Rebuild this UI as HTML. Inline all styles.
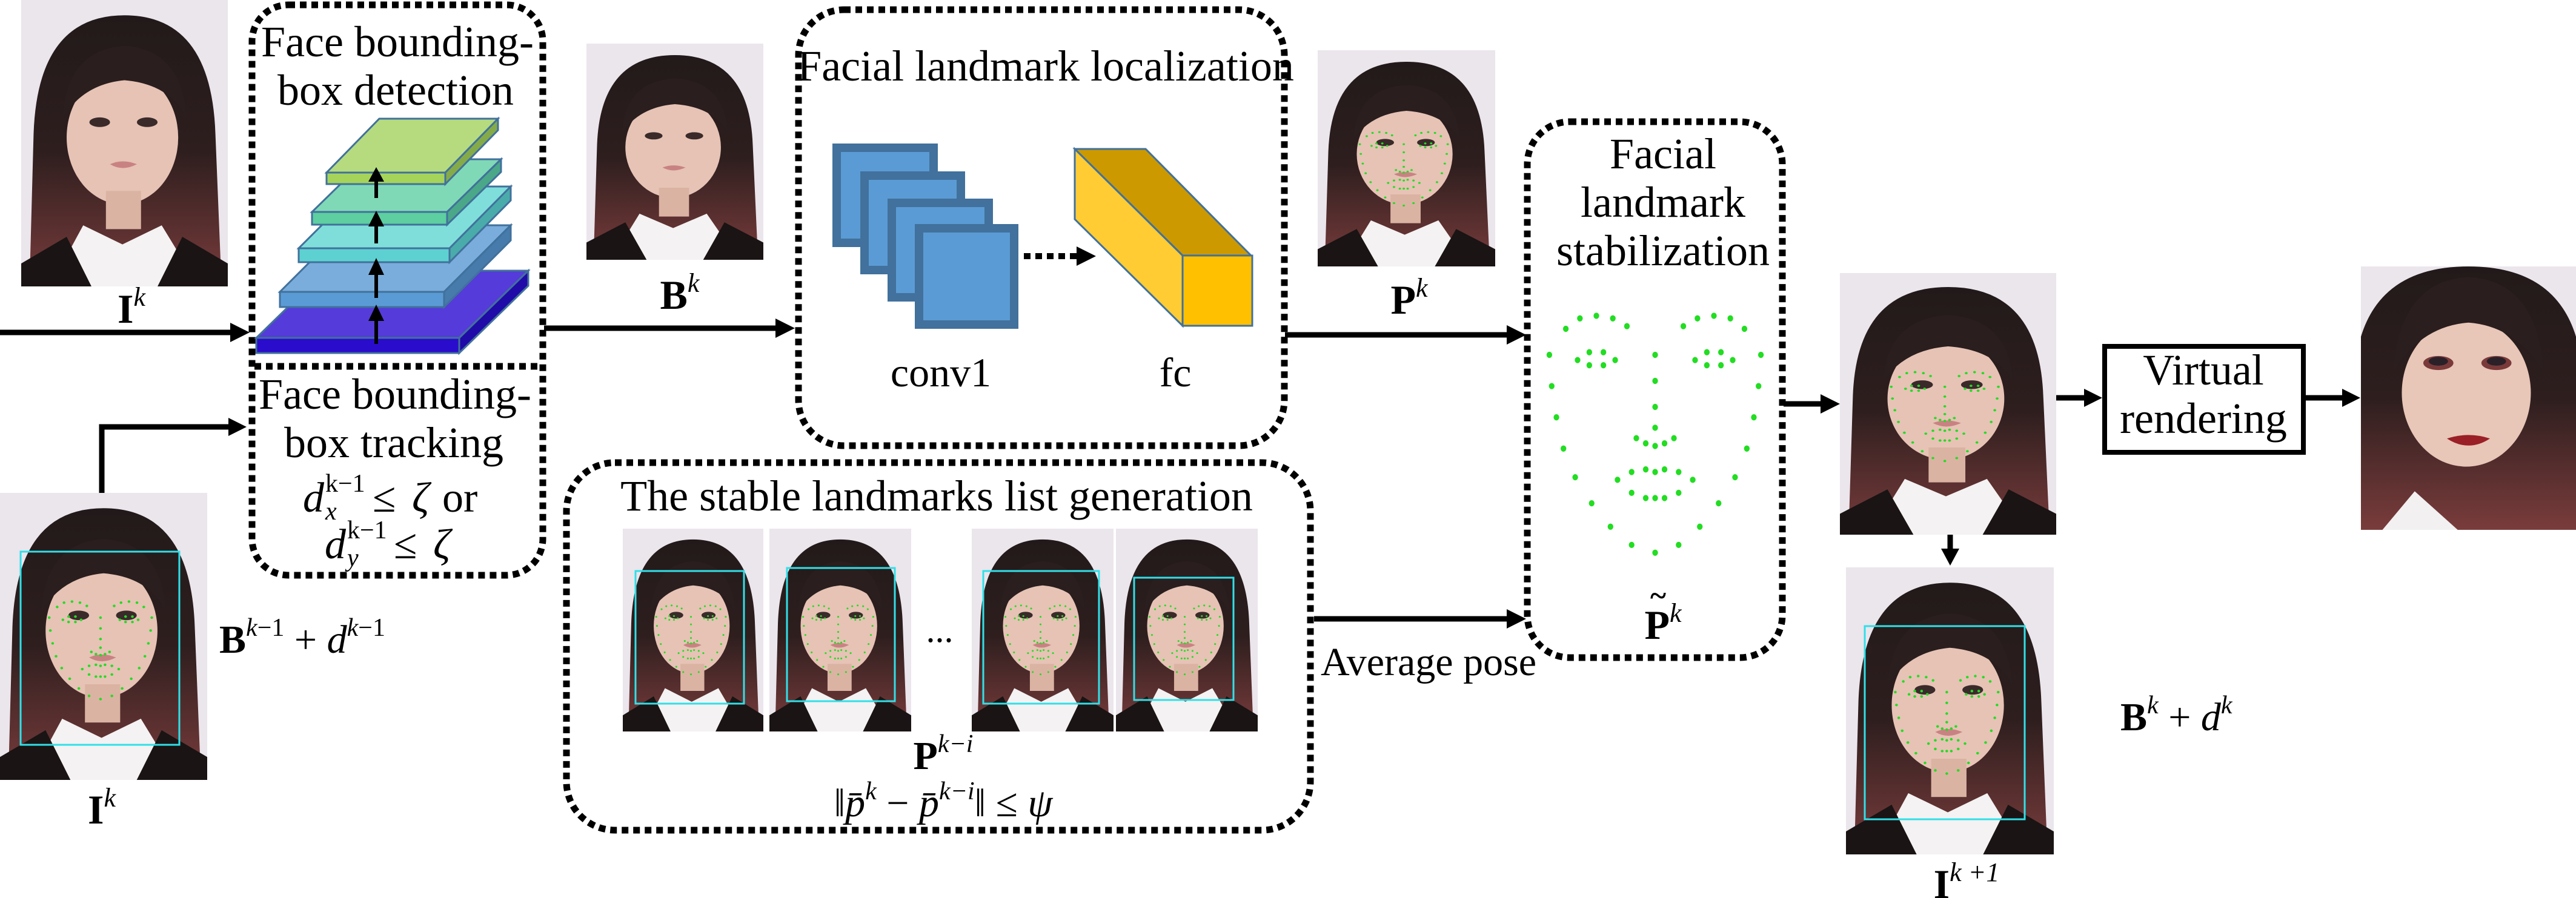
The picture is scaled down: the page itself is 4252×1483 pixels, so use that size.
<!DOCTYPE html>
<html><head><meta charset="utf-8"><style>
html,body{margin:0;padding:0;background:#fff}
svg{display:block}
svg text{font-family:"Liberation Serif","DejaVu Serif","Times New Roman",serif !important}
</style></head><body>
<svg width="4252" height="1483" viewBox="0 0 4252 1483" xmlns="http://www.w3.org/2000/svg" font-family="Liberation Serif, DejaVu Serif, serif">
<defs>
<linearGradient id="hg" x1="0" y1="0" x2="0" y2="1">
<stop offset="0" stop-color="#221a1a"/><stop offset="0.5" stop-color="#2e1e1e"/><stop offset="1" stop-color="#7a3c3c"/>
</linearGradient>
<symbol id="lm" viewBox="0 0 100 100" preserveAspectRatio="none">
<g fill="#22dd22">
<circle cx="5" cy="20" r="1.2"/><circle cx="6" cy="32" r="1.2"/><circle cx="8" cy="44" r="1.2"/><circle cx="11" cy="56" r="1.2"/><circle cx="16" cy="67" r="1.2"/><circle cx="23" cy="77" r="1.2"/><circle cx="31" cy="86" r="1.2"/><circle cx="40" cy="93" r="1.2"/><circle cx="50" cy="96" r="1.2"/><circle cx="60" cy="93" r="1.2"/><circle cx="69" cy="86" r="1.2"/><circle cx="77" cy="77" r="1.2"/><circle cx="84" cy="67" r="1.2"/><circle cx="89" cy="56" r="1.2"/><circle cx="92" cy="44" r="1.2"/><circle cx="94" cy="32" r="1.2"/><circle cx="95" cy="20" r="1.2"/>
<circle cx="12" cy="10" r="1.2"/><circle cx="18" cy="6" r="1.2"/><circle cx="25" cy="5" r="1.2"/><circle cx="32" cy="6" r="1.2"/><circle cx="38" cy="9" r="1.2"/><circle cx="62" cy="9" r="1.2"/><circle cx="68" cy="6" r="1.2"/><circle cx="75" cy="5" r="1.2"/><circle cx="82" cy="6" r="1.2"/><circle cx="88" cy="10" r="1.2"/>
<circle cx="17" cy="22" r="1.2"/><circle cx="22" cy="19" r="1.2"/><circle cx="28" cy="19" r="1.2"/><circle cx="33" cy="22" r="1.2"/><circle cx="28" cy="24" r="1.2"/><circle cx="22" cy="24" r="1.2"/><circle cx="67" cy="22" r="1.2"/><circle cx="72" cy="19" r="1.2"/><circle cx="78" cy="19" r="1.2"/><circle cx="83" cy="22" r="1.2"/><circle cx="78" cy="24" r="1.2"/><circle cx="72" cy="24" r="1.2"/>
<circle cx="50" cy="20" r="1.2"/><circle cx="50" cy="30" r="1.2"/><circle cx="50" cy="40" r="1.2"/><circle cx="50" cy="48" r="1.2"/><circle cx="42" cy="52" r="1.2"/><circle cx="46" cy="54" r="1.2"/><circle cx="50" cy="55" r="1.2"/><circle cx="54" cy="54" r="1.2"/><circle cx="58" cy="52" r="1.2"/>
<circle cx="34" cy="68" r="1.2"/><circle cx="40" cy="65" r="1.2"/><circle cx="46" cy="64" r="1.2"/><circle cx="50" cy="65" r="1.2"/><circle cx="54" cy="64" r="1.2"/><circle cx="60" cy="65" r="1.2"/><circle cx="66" cy="68" r="1.2"/><circle cx="60" cy="73" r="1.2"/><circle cx="54" cy="75" r="1.2"/><circle cx="50" cy="75" r="1.2"/><circle cx="46" cy="75" r="1.2"/><circle cx="40" cy="73" r="1.2"/>
</g>
</symbol>
<symbol id="face" viewBox="0 0 100 150" preserveAspectRatio="none">
<rect width="100" height="150" fill="#ebe5ec"/>
<path d="M4,150 L6,70 Q8,8 50,8 Q92,8 94,70 L97,150 Z" fill="url(#hg)"/>
<ellipse cx="49" cy="72" rx="27" ry="35" fill="#e6c3b5"/>
<path d="M20,62 Q22,26 50,24 Q78,26 80,62 Q72,44 50,42 Q30,44 20,62 Z" fill="#2a1e1e"/>
<rect x="41" y="100" width="17" height="20" fill="#dbb3a3"/>
<path d="M14,150 L30,118 L49,128 L68,118 L86,150 Z" fill="#f4f2f2"/>
<path d="M0,150 L0,138 L22,124 L34,150 Z M100,150 L100,138 L78,124 L66,150 Z" fill="#1a1414"/>
<ellipse cx="38" cy="64" rx="5" ry="2.5" fill="#3a2a2a"/><ellipse cx="61" cy="64" rx="5" ry="2.5" fill="#3a2a2a"/>
<path d="M43,86 Q49,83 56,86 Q49,90 43,86 Z" fill="#c98282"/>
</symbol>
<symbol id="faceL" viewBox="0 0 100 150" preserveAspectRatio="none">
<use href="#face" x="0" y="0" width="100" height="150"/>
<use href="#lm" x="21" y="54" width="55" height="56"/>
</symbol>
<symbol id="faceR" viewBox="0 0 100 150" preserveAspectRatio="none">
<rect width="100" height="150" fill="#ebe5ec"/>
<path d="M0,150 L0,40 Q10,0 50,0 Q90,0 100,40 L100,150 Z" fill="url(#hg)"/>
<ellipse cx="49" cy="72" rx="30" ry="42" fill="#e8c6b8"/>
<path d="M15,60 Q18,8 50,6 Q82,8 85,60 Q72,34 50,32 Q28,34 15,60 Z" fill="#2a1e1e"/>
<path d="M10,150 L25,128 L45,150 Z" fill="#f2f0f0"/>
<ellipse cx="36" cy="55" rx="7" ry="4" fill="#7a3a3a"/><ellipse cx="63" cy="55" rx="7" ry="4" fill="#7a3a3a"/>
<ellipse cx="36" cy="54" rx="4.5" ry="2.5" fill="#2a2028"/><ellipse cx="63" cy="54" rx="4.5" ry="2.5" fill="#2a2028"/>
<path d="M40,98 Q50,94 60,98 Q50,106 40,98 Z" fill="#9a1f26"/>
</symbol>
</defs>

<use href="#face" x="35" y="0" width="341" height="473"/>
<text x="217" y="533" font-size="68" font-weight="bold" text-anchor="middle">I<tspan font-size="44" font-weight="normal" font-style="italic" dy="-28">k</tspan></text>
<line x1="0" y1="549" x2="385" y2="549" stroke="#000" stroke-width="9"/>
<polygon points="412,549 380,533 380,565" fill="#000"/>

<rect x="416" y="8" width="480" height="942" rx="60" fill="none" stroke="#000" stroke-width="11" stroke-dasharray="11 8"/>
<line x1="420" y1="605" x2="894" y2="605" stroke="#000" stroke-width="11" stroke-dasharray="11 8"/>
<text x="656" y="93" font-size="72" text-anchor="middle">Face bounding-</text>
<text x="653" y="173" font-size="72" text-anchor="middle">box detection</text>
<g stroke="#41719c" stroke-width="3">
<polygon points="423,558 758,558 872,447 537,447" fill="#553bd9"/><rect x="423" y="558" width="335" height="25" fill="#2a0ccc"/><polygon points="758,558 872,447 872,472 758,583" fill="#200aa8"/>
<polygon points="462,482 733,482 843,372 572,372" fill="#7aaddc"/><rect x="462" y="482" width="271" height="25" fill="#5b9bd5"/><polygon points="733,482 843,372 843,397 733,507" fill="#467bab"/>
<polygon points="493,410 742,410 843,308 595,308" fill="#7fdeda"/><rect x="493" y="410" width="249" height="23" fill="#5dd1d1"/><polygon points="742,410 843,308 843,331 742,433" fill="#4aabab"/>
<polygon points="515,350 738,350 827,263 604,263" fill="#80d9b6"/><rect x="515" y="350" width="223" height="21" fill="#5dcfa0"/><polygon points="738,350 827,263 827,284 738,371" fill="#4aa888"/>
<polygon points="539,285 735,285 822,196 626,196" fill="#b5db7e"/><rect x="539" y="285" width="196" height="19" fill="#a6d45a"/><polygon points="735,285 822,196 822,215 735,304" fill="#85ab48"/>
</g>
<g fill="#000">
<rect x="618" y="525" width="6" height="43"/><polygon points="621,503 608,530 634,530"/>
<rect x="618" y="452" width="6" height="40"/><polygon points="621,426 608,454 634,454"/>
<rect x="618" y="372" width="6" height="30"/><polygon points="621,348 608,374 634,374"/>
<rect x="618" y="298" width="6" height="29"/><polygon points="621,276 608,300 634,300"/>
</g>
<text x="652" y="675" font-size="72" text-anchor="middle">Face bounding-</text>
<text x="650" y="755" font-size="72" text-anchor="middle">box tracking</text>
<text x="500" y="845" font-size="70" font-style="italic">d</text>
<text x="537" y="812" font-size="42">k−1</text>
<text x="537" y="858" font-size="42" font-style="italic">x</text>
<text x="615" y="845" font-size="70">≤</text>
<text x="680" y="845" font-size="70" font-style="italic">ζ</text>
<text x="730" y="845" font-size="70">or</text>
<text x="536" y="922" font-size="70" font-style="italic">d</text>
<text x="573" y="889" font-size="42">k−1</text>
<text x="573" y="935" font-size="42" font-style="italic">y</text>
<text x="650" y="922" font-size="70">≤</text>
<text x="715" y="922" font-size="70" font-style="italic">ζ</text>

<use href="#faceL" x="0" y="814" width="342" height="474"/>
<rect x="34" y="911" width="262" height="319" fill="none" stroke="#30e0e8" stroke-width="3"/>
<text x="168" y="1360" font-size="68" font-weight="bold" text-anchor="middle">I<tspan font-size="44" font-weight="normal" font-style="italic" dy="-28">k</tspan></text>
<polyline points="168,814 168,705 380,705" fill="none" stroke="#000" stroke-width="9"/>
<polygon points="407,705 377,690 377,720" fill="#000"/>
<text x="362" y="1078" font-size="66"><tspan font-weight="bold">B</tspan><tspan font-size="42" font-style="italic" dy="-28">k</tspan><tspan font-size="42" dy="0">−1</tspan><tspan dy="28"> + </tspan><tspan font-style="italic">d</tspan><tspan font-size="42" font-style="italic" dy="-28">k</tspan><tspan font-size="42">−1</tspan></text>

<use href="#face" x="968" y="72" width="292" height="357"/>
<text x="1122" y="510" font-size="68" font-weight="bold" text-anchor="middle">B<tspan font-size="44" font-weight="normal" font-style="italic" dy="-28">k</tspan></text>
<line x1="898" y1="542" x2="1285" y2="542" stroke="#000" stroke-width="9"/>
<polygon points="1312,542 1280,526 1280,558" fill="#000"/>

<rect x="1318" y="16" width="802" height="720" rx="75" fill="none" stroke="#000" stroke-width="11" stroke-dasharray="11 8"/>
<text x="1726" y="133" font-size="72" text-anchor="middle">Facial landmark localization</text>
<g fill="#5b9bd5" stroke="#41719c" stroke-width="14">
<rect x="1381" y="244" width="160" height="157"/>
<rect x="1427" y="290" width="159" height="156"/>
<rect x="1472" y="335" width="160" height="156"/>
<rect x="1517" y="377" width="157" height="159"/>
</g>
<line x1="1690" y1="423" x2="1778" y2="423" stroke="#000" stroke-width="10" stroke-dasharray="11 8"/>
<polygon points="1809,423 1777,407 1777,439" fill="#000"/>
<g stroke="#41719c" stroke-width="3">
<polygon points="1774,246 1891,246 2065,422 1952,422" fill="#cc9900"/>
<polygon points="1774,246 1952,422 1952,538 1774,362" fill="#ffcc33"/>
<rect x="1952" y="422" width="115" height="116" fill="#ffc000"/>
</g>
<text x="1553" y="638" font-size="68" text-anchor="middle">conv1</text>
<text x="1940" y="638" font-size="68" text-anchor="middle">fc</text>

<rect x="935" y="764" width="1228" height="607" rx="80" fill="none" stroke="#000" stroke-width="11" stroke-dasharray="11 8"/>
<text x="1546" y="843" font-size="72" text-anchor="middle">The stable landmarks list generation</text>
<use href="#faceL" x="1028" y="873" width="232" height="335"/>
<rect x="1049" y="943" width="179" height="219" fill="none" stroke="#30e0e8" stroke-width="3"/>
<use href="#faceL" x="1270" y="873" width="234" height="335"/>
<rect x="1299" y="938" width="178" height="220" fill="none" stroke="#30e0e8" stroke-width="3"/>
<text x="1551" y="1060" font-size="60" text-anchor="middle">...</text>
<use href="#faceL" x="1604" y="873" width="234" height="335"/>
<rect x="1623" y="943" width="191" height="219" fill="none" stroke="#30e0e8" stroke-width="3"/>
<use href="#faceL" x="1842" y="873" width="234" height="335"/>
<rect x="1872" y="954" width="164" height="202" fill="none" stroke="#30e0e8" stroke-width="3"/>
<text x="1557" y="1270" font-size="66" text-anchor="middle" font-weight="bold">P<tspan font-size="42" font-weight="normal" font-style="italic" dy="-28">k−i</tspan></text>
<text x="1557" y="1348" font-size="66" text-anchor="middle">‖<tspan font-style="italic">p̄</tspan><tspan font-size="42" font-style="italic" dy="-28">k</tspan><tspan dy="28"> − </tspan><tspan font-style="italic">p̄</tspan><tspan font-size="42" font-style="italic" dy="-28">k−i</tspan><tspan dy="28">‖ ≤ </tspan><tspan font-style="italic">ψ</tspan></text>

<line x1="2121" y1="553" x2="2492" y2="553" stroke="#000" stroke-width="9"/>
<polygon points="2519,553 2487,537 2487,569" fill="#000"/>
<line x1="2169" y1="1022" x2="2492" y2="1022" stroke="#000" stroke-width="9"/>
<polygon points="2519,1022 2487,1006 2487,1038" fill="#000"/>
<text x="2358" y="1115" font-size="66" text-anchor="middle">Average pose</text>

<use href="#faceL" x="2175" y="83" width="293" height="357"/>
<text x="2326" y="518" font-size="68" font-weight="bold" text-anchor="middle">P<tspan font-size="44" font-weight="normal" font-style="italic" dy="-28">k</tspan></text>

<rect x="2521" y="201" width="421" height="885" rx="70" fill="none" stroke="#000" stroke-width="11" stroke-dasharray="11 8"/>
<text x="2745" y="278" font-size="72" text-anchor="middle">Facial</text>
<text x="2745" y="358" font-size="72" text-anchor="middle">landmark</text>
<text x="2745" y="438" font-size="72" text-anchor="middle">stabilization</text>
<use href="#lm" x="2538" y="500" width="388" height="430"/>
<text x="2745" y="1055" font-size="68" font-weight="bold" text-anchor="middle">P<tspan font-size="44" font-weight="normal" font-style="italic" dy="-28">k</tspan></text>
<text x="2724" y="1000" font-size="50" font-weight="bold">~</text>

<line x1="2944" y1="667" x2="3010" y2="667" stroke="#000" stroke-width="9"/>
<polygon points="3037,667 3005,651 3005,683" fill="#000"/>
<use href="#faceL" x="3037" y="451" width="357" height="432"/>
<line x1="3219" y1="883" x2="3219" y2="910" stroke="#000" stroke-width="9"/>
<polygon points="3219,934 3204,906 3234,906" fill="#000"/>
<use href="#faceL" x="3047" y="937" width="343" height="474"/>
<rect x="3078" y="1034" width="264" height="319" fill="none" stroke="#30e0e8" stroke-width="3"/>
<text x="3246" y="1483" font-size="68" font-weight="bold" text-anchor="middle">I<tspan font-size="44" font-weight="normal" font-style="italic" dy="-28">k +1</tspan></text>
<text x="3500" y="1206" font-size="66"><tspan font-weight="bold">B</tspan><tspan font-size="42" font-style="italic" dy="-28">k</tspan><tspan dy="28"> + </tspan><tspan font-style="italic">d</tspan><tspan font-size="42" font-style="italic" dy="-28">k</tspan></text>

<line x1="3394" y1="657" x2="3445" y2="657" stroke="#000" stroke-width="9"/>
<polygon points="3470,657 3440,642 3440,672" fill="#000"/>
<rect x="3474" y="572" width="328" height="175" fill="#fff" stroke="#000" stroke-width="8"/>
<text x="3637" y="635" font-size="72" text-anchor="middle">Virtual</text>
<text x="3637" y="715" font-size="72" text-anchor="middle">rendering</text>
<line x1="3806" y1="657" x2="3870" y2="657" stroke="#000" stroke-width="9"/>
<polygon points="3896,657 3866,642 3866,672" fill="#000"/>
<use href="#faceR" x="3897" y="440" width="355" height="435"/>
</svg>
</body></html>
